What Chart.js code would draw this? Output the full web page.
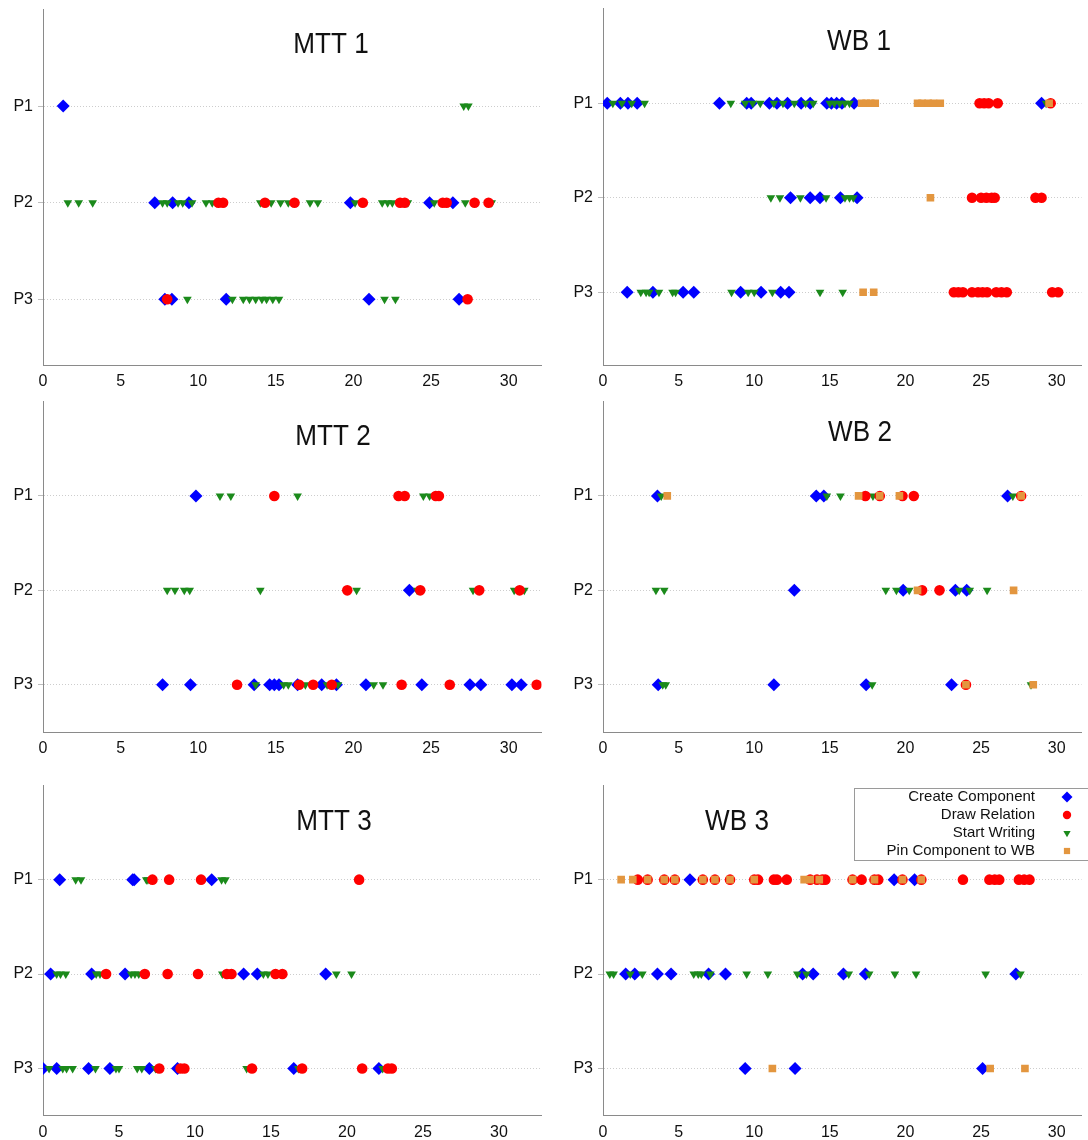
<!DOCTYPE html>
<html><head><meta charset="utf-8">
<script src="https://cdn.jsdelivr.net/npm/chart.js@4/dist/chart.umd.min.js"></script>
<style>
html,body{margin:0;padding:0;background:#fff;overflow:hidden;width:1088px;height:1140px;}
canvas{position:absolute;display:block;}
</style></head><body>
<canvas id="c_mtt1"></canvas><canvas id="c_wb1"></canvas>
<canvas id="c_mtt2"></canvas><canvas id="c_wb2"></canvas>
<canvas id="c_mtt3"></canvas><canvas id="c_wb3"></canvas>
<script>
// ---------- data ----------
const CATEGORIES = ['P1', 'P2', 'P3'];
const SERIES = ['Create Component', 'Draw Relation', 'Start Writing', 'Pin Component to WB'];
const X_TICKS = [0, 5, 10, 15, 20, 25, 30];

// each array: [P1 times, P2 times, P3 times]
const MTT1_CREATE   = [[1.3], [7.2, 8.35, 9.4, 19.8, 24.9, 26.4], [7.85, 8.3, 11.8, 21.0, 26.8]];
const MTT1_RELATION = [[], [11.3, 11.6, 14.3, 16.2, 20.6, 23.0, 23.3, 25.75, 26.0, 27.8, 28.7], [8.0, 27.35]];
const MTT1_WRITING  = [[27.1, 27.4], [1.6, 2.3, 3.2, 7.7, 8.0, 8.7, 9.0, 9.6, 10.5, 10.9, 14.0, 14.7, 15.3, 15.8, 17.2, 17.7, 20.1, 21.85, 22.2, 22.5, 23.5, 25.2, 27.2, 28.9], [9.3, 12.2, 12.9, 13.3, 13.7, 14.1, 14.4, 14.8, 15.2, 22.0, 22.7]];
const MTT1_PIN      = [[], [], []];

const MTT2_CREATE   = [[9.85], [23.6], [7.7, 9.5, 13.6, 14.6, 14.9, 15.2, 16.4, 17.95, 18.9, 20.8, 24.4, 27.5, 28.2, 30.2, 30.8]];
const MTT2_RELATION = [[14.9, 22.9, 23.3, 25.3, 25.5], [19.6, 24.3, 28.1, 30.7], [12.5, 16.5, 17.4, 18.6, 23.1, 26.2, 31.8]];
const MTT2_WRITING  = [[11.4, 12.1, 16.4, 24.5, 24.9], [8.0, 8.5, 9.1, 9.45, 14.0, 20.2, 24.1, 27.7, 30.35, 31.0], [13.7, 15.5, 15.8, 16.9, 18.3, 19.0, 21.3, 21.9]];
const MTT2_PIN      = [[], [], []];

const MTT3_CREATE   = [[1.1, 5.9, 6.0, 11.1], [0.5, 3.2, 5.4, 13.2, 14.1, 18.6], [0.0, 0.9, 3.0, 4.4, 7.0, 8.85, 16.5, 22.1]];
const MTT3_RELATION = [[7.2, 8.3, 10.4, 20.8], [4.15, 6.7, 8.2, 10.2, 12.1, 12.4, 15.3, 15.75], [7.65, 9.05, 9.3, 13.75, 17.05, 21.0, 22.7, 22.95]];
const MTT3_WRITING  = [[2.15, 2.5, 6.8, 6.9, 11.75, 12.0], [0.9, 1.15, 1.5, 3.5, 3.75, 5.8, 6.05, 6.3, 11.8, 14.5, 14.8, 19.3, 20.3], [0.4, 1.3, 1.55, 1.95, 3.45, 4.8, 5.0, 6.2, 6.5, 7.4, 13.4, 16.8, 22.35]];
const MTT3_PIN      = [[], [], []];

const WB1_CREATE   = [[0.28, 1.15, 1.65, 2.26, 7.7, 9.5, 9.8, 11.0, 11.5, 12.2, 13.1, 13.7, 14.8, 15.1, 15.45, 15.8, 16.6, 29.0], [12.4, 13.7, 14.35, 15.7, 16.8], [1.6, 3.3, 5.3, 6.0, 9.1, 10.45, 11.75, 12.3]];
const WB1_RELATION = [[24.9, 25.2, 25.5, 26.1, 29.6], [24.4, 25.0, 25.35, 25.7, 25.9, 28.6, 29.0], [23.2, 23.5, 23.8, 24.4, 24.8, 25.1, 25.4, 26.0, 26.35, 26.7, 29.7, 30.1]];
const WB1_WRITING  = [[0.65, 1.25, 1.9, 2.75, 8.45, 9.4, 9.9, 10.4, 11.3, 11.9, 12.65, 13.4, 13.9, 15.0, 15.3, 15.65, 16.0, 16.3, 29.3], [11.1, 11.7, 13.05, 14.75, 16.0, 16.3, 16.55], [2.5, 2.85, 3.05, 3.7, 4.6, 4.8, 8.5, 9.6, 10.0, 11.2, 14.35, 15.85]];
const WB1_PIN      = [[17.1, 17.4, 17.7, 18.0, 20.8, 21.1, 21.5, 21.85, 22.3, 29.5], [21.65], [17.2, 17.9]];

const WB2_CREATE   = [[3.6, 14.1, 14.6, 26.75], [12.65, 19.85, 23.3, 24.05], [3.65, 11.3, 17.4, 23.05]];
const WB2_RELATION = [[17.35, 18.3, 19.8, 20.55, 27.65], [21.1, 22.25], [24.0]];
const WB2_WRITING  = [[3.85, 14.8, 15.7, 17.85, 27.1], [3.5, 4.05, 18.7, 19.4, 20.25, 23.55, 24.25, 25.4], [3.95, 4.15, 17.8, 28.3]];
const WB2_PIN      = [[4.25, 16.9, 18.3, 19.6, 27.65], [20.8, 27.15], [24.0, 28.45]];

const WB3_CREATE   = [[5.75, 19.25, 20.6], [1.5, 2.1, 3.6, 4.5, 6.98, 8.1, 13.2, 13.9, 15.9, 17.35, 27.3], [9.4, 12.7, 25.1]];
const WB3_RELATION = [[2.3, 2.95, 4.05, 4.75, 6.6, 7.4, 8.4, 10.0, 10.25, 11.3, 11.5, 12.15, 13.7, 14.15, 14.5, 14.7, 16.5, 17.1, 17.95, 18.2, 19.8, 21.05, 23.8, 25.55, 25.9, 26.2, 27.5, 27.85, 28.2], [], []];
const WB3_WRITING  = [[], [0.45, 0.7, 1.8, 2.6, 6.0, 6.3, 6.5, 7.1, 9.5, 10.9, 12.85, 13.45, 16.25, 17.6, 19.3, 20.7, 25.3, 27.6], []];
const WB3_PIN      = [[1.2, 1.97, 2.95, 4.05, 4.75, 6.6, 7.4, 8.4, 10.0, 13.3, 13.7, 14.3, 16.5, 17.95, 19.8, 21.05], [], [11.2, 25.6, 27.9]];

// ---------- styles & layout ----------
const FONT = "'Liberation Sans',Arial,sans-serif";
const STYLE = [
  {color: '#0000ff', pointStyle: 'rectRot', radius: 6.5, rotation: 0, order: 3, legendRadius: 5.5},
  {color: '#ff0000', pointStyle: 'circle', radius: 5.3, rotation: 0, order: 1, legendRadius: 4.2},
  {color: '#1b8a1b', pointStyle: 'triangle', radius: 5, rotation: 180, order: 2, legendRadius: 4.2},
  {color: '#e3963f', pointStyle: 'rect', radius: 5.4, rotation: 0, order: 0, legendRadius: 4.4}
];

const PANELS = [
  {id: 'c_mtt1', title: 'MTT 1', series: [MTT1_CREATE, MTT1_RELATION, MTT1_WRITING, MTT1_PIN],
   box: {l: 0, t: 0, w: 548, h: 395}, area: {l: 43, t: 9.5, r: 545, b: 365}, xMax: 32.11, yMax: 3.68, titleAt: [331, 45]},
  {id: 'c_wb1', title: 'WB 1', series: [WB1_CREATE, WB1_RELATION, WB1_WRITING, WB1_PIN],
   box: {l: 560, t: 0, w: 528, h: 395}, area: {l: 603, t: 8.8, r: 1088, b: 365}, xMax: 31.64, yMax: 3.77, titleAt: [859, 42]},
  {id: 'c_mtt2', title: 'MTT 2', series: [MTT2_CREATE, MTT2_RELATION, MTT2_WRITING, MTT2_PIN],
   box: {l: 0, t: 395, w: 548, h: 375}, area: {l: 43, t: 401, r: 545, b: 732}, xMax: 32.11, yMax: 3.5, titleAt: [333, 437]},
  {id: 'c_wb2', title: 'WB 2', series: [WB2_CREATE, WB2_RELATION, WB2_WRITING, WB2_PIN],
   box: {l: 560, t: 395, w: 528, h: 375}, area: {l: 603, t: 401, r: 1088, b: 732}, xMax: 31.64, yMax: 3.5, titleAt: [860, 433]},
  {id: 'c_mtt3', title: 'MTT 3', series: [MTT3_CREATE, MTT3_RELATION, MTT3_WRITING, MTT3_PIN],
   box: {l: 0, t: 770, w: 548, h: 370}, area: {l: 43, t: 785.2, r: 545, b: 1115.7}, xMax: 32.8, yMax: 3.5, titleAt: [334, 822]},
  {id: 'c_wb3', title: 'WB 3', series: [WB3_CREATE, WB3_RELATION, WB3_WRITING, WB3_PIN],
   box: {l: 560, t: 770, w: 528, h: 370}, area: {l: 603, t: 785.2, r: 1088, b: 1115.7}, xMax: 31.64, yMax: 3.5, titleAt: [737, 822],
   legend: {box: [854, 788, 240, 72], textRight: 1035, markerX: 1067, rows: [797, 815, 833, 851]}}
];

// ---------- plugin: in-plot title and legend ----------
const decoPlugin = {
  id: 'panelDeco',
  afterDraw(chart, args, opts) {
    const ctx = chart.ctx;
    const p = opts.panel;
    ctx.save();
    ctx.fillStyle = '#111';
    ctx.font = '30px ' + FONT;
    ctx.textAlign = 'center';
    ctx.textBaseline = 'middle';
    ctx.save();
    ctx.translate(p.titleAt[0] - p.box.l, p.titleAt[1] - p.box.t);
    ctx.scale(0.87, 1);
    ctx.fillText(p.title, 0, 0);
    ctx.restore();
    if (p.legend) {
      const L = p.legend;
      const bx = L.box[0] - p.box.l, by = L.box[1] - p.box.t;
      ctx.fillStyle = '#fff';
      ctx.fillRect(bx, by, L.box[2], L.box[3]);
      ctx.strokeStyle = '#9a9a9a';
      ctx.lineWidth = 1;
      ctx.strokeRect(bx + 0.5, by + 0.5, L.box[2], L.box[3]);
      ctx.font = '15px ' + FONT;
      ctx.textAlign = 'right';
      SERIES.forEach((name, i) => {
        const y = L.rows[i] - p.box.t;
        ctx.fillStyle = '#111';
        ctx.fillText(name, L.textRight - p.box.l, y);
        const s = STYLE[i];
        ctx.fillStyle = s.color;
        ctx.strokeStyle = s.color;
        Chart.helpers.drawPoint(ctx, {pointStyle: s.pointStyle, radius: s.legendRadius, rotation: s.rotation, borderWidth: 0}, L.markerX - p.box.l, y);
      });
    }
    ctx.restore();
  }
};

function buildDatasets(seriesArrays) {
  return seriesArrays.map((perParticipant, si) => {
    const s = STYLE[si];
    const pts = [];
    perParticipant.forEach((xs, pi) => xs.forEach(x => pts.push({x: x, y: pi + 1})));
    return {
      label: SERIES[si], data: pts, order: s.order,
      pointStyle: s.pointStyle, pointRadius: s.radius, pointRotation: s.rotation,
      backgroundColor: s.color, borderColor: s.color, pointBorderWidth: 0,
      showLine: false
    };
  });
}

PANELS.forEach(p => {
  const cv = document.getElementById(p.id);
  cv.width = p.box.w; cv.height = p.box.h;
  cv.style.left = p.box.l + 'px'; cv.style.top = p.box.t + 'px';
  cv.style.width = p.box.w + 'px'; cv.style.height = p.box.h + 'px';
  const yAxisW = p.area.l - p.box.l;
  const xAxisH = (p.box.t + p.box.h) - p.area.b;
  new Chart(cv, {
    type: 'scatter',
    data: {datasets: buildDatasets(p.series)},
    options: {
      responsive: false, animation: false, devicePixelRatio: 1,
      layout: {padding: {top: p.area.t - p.box.t, right: (p.box.l + p.box.w) - p.area.r, left: 0, bottom: 0}},
      plugins: {legend: {display: false}, tooltip: {enabled: false}, title: {display: false}, panelDeco: {panel: p}},
      scales: {
        x: {
          type: 'linear', min: 0, max: p.xMax,
          afterBuildTicks: sc => { sc.ticks = X_TICKS.map(v => ({value: v})); },
          afterFit: sc => { sc.height = xAxisH; sc.paddingLeft = 0; sc.paddingRight = 0; },
          grid: {display: false, drawTicks: false},
          border: {display: true, color: '#8a8a8a', width: 1},
          ticks: {color: '#111', font: {family: FONT, size: 16}, padding: 7, maxRotation: 0, autoSkip: false}
        },
        y: {
          type: 'linear', min: 0, max: p.yMax, reverse: true,
          afterBuildTicks: sc => { sc.ticks = CATEGORIES.map((c, i) => ({value: i + 1})); },
          afterFit: sc => { sc.width = yAxisW; sc.paddingTop = 0; sc.paddingBottom = 0; },
          grid: {color: '#cdcdcd', lineWidth: 1, drawTicks: true, tickLength: 5, tickColor: '#bdbdbd'},
          border: {display: true, color: '#8a8a8a', width: 1, dash: [1, 2]},
          ticks: {color: '#111', font: {family: FONT, size: 16}, padding: 5,
                  callback: v => CATEGORIES[Math.round(v) - 1] || ''}
        }
      }
    },
    plugins: [decoPlugin]
  });
});
</script>
</body></html>
